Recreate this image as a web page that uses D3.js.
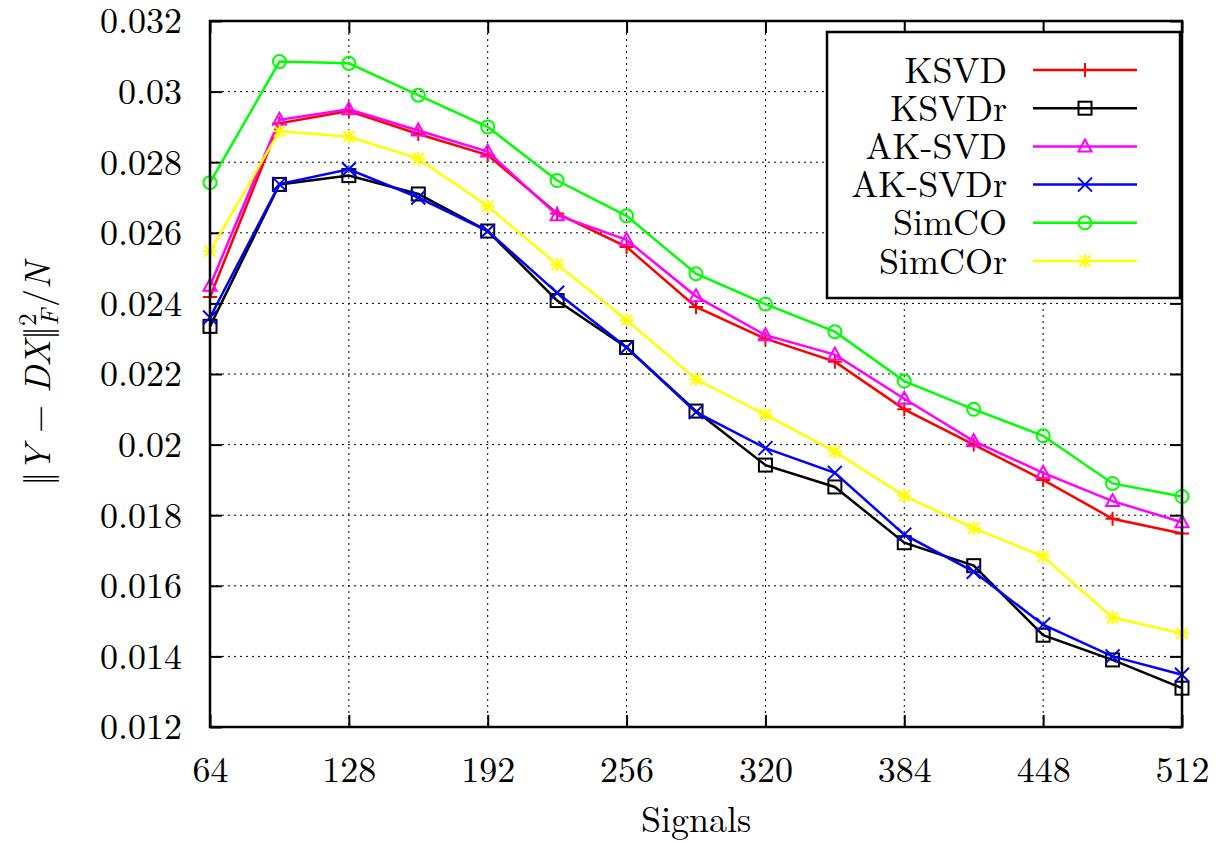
<!DOCTYPE html>
<html>
<head>
<meta charset="utf-8">
<script src="https://cdn.jsdelivr.net/npm/d3@7"></script>
</head>
<body style="margin:0; background:#fff">
<svg width="1220" height="842"></svg>
<script>

var signals = [64, 96, 128, 160, 192, 224, 256, 288, 320, 352, 384, 416, 448, 480, 512];

var ksvd    = [0.02418, 0.0291, 0.02945, 0.0288, 0.0282, 0.02655, 0.0256, 0.0239, 0.0230, 0.02235, 0.0210, 0.0200, 0.0190, 0.0179, 0.01748];
var ksvdr   = [0.02335, 0.02737, 0.02762, 0.0271, 0.02605, 0.02408, 0.02275, 0.02095, 0.01942, 0.0188, 0.01722, 0.01657, 0.0146, 0.0139, 0.0131];
var aksvd   = [0.0245, 0.0292, 0.0295, 0.0289, 0.0283, 0.0265, 0.0258, 0.0242, 0.0231, 0.02255, 0.0213, 0.0201, 0.0192, 0.0184, 0.0178];
var aksvdr  = [0.0236, 0.02738, 0.0278, 0.0270, 0.02605, 0.0243, 0.02275, 0.02092, 0.0199, 0.0192, 0.01745, 0.0164, 0.0149, 0.0140, 0.01348];
var simco   = [0.02742, 0.03085, 0.0308, 0.0299, 0.0290, 0.02748, 0.02648, 0.02484, 0.02398, 0.0232, 0.0218, 0.0210, 0.02025, 0.0189, 0.01853];
var simcor  = [0.02548, 0.02888, 0.02872, 0.0281, 0.02675, 0.0251, 0.02353, 0.02185, 0.02085, 0.0198, 0.01855, 0.01763, 0.01683, 0.0151, 0.01465];

var xTicks = [64, 128, 192, 256, 320, 384, 448, 512];
var yTicks = [0.012, 0.014, 0.016, 0.018, 0.02, 0.022, 0.024, 0.026, 0.028, 0.03, 0.032];

var series = [
    {name: "KSVD",     values: ksvd,   color: "#ff0000", mark: "plus"},
    {name: "KSVDr",    values: ksvdr,  color: "#000000", mark: "square"},
    {name: "AK-SVD",   values: aksvd,  color: "#ff00ff", mark: "triangle"},
    {name: "AK-SVDr",  values: aksvdr, color: "#0000ff", mark: "cross"},
    {name: "SimCO",    values: simco,  color: "#00ff00", mark: "circle"},
    {name: "SimCOr",   values: simcor, color: "#ffff00", mark: "star"}
];

var FONT = "'Latin Modern Roman', 'Liberation Serif', serif";

var svg = d3.select("svg"),
    margin = {top: 21, right: 38, bottom: 115, left: 210},
    width = +svg.attr("width") - margin.left - margin.right,
    height = +svg.attr("height") - margin.top - margin.bottom;

var x = d3.scaleLinear().domain([64, 512]).range([0, width]),
    y = d3.scaleLinear().domain([0.012, 0.032]).range([height, 0]);

var g = svg.append("g")
    .attr("transform", "translate(" + margin.left + "," + margin.top + ")");

// dotted grid
g.append("g").selectAll("line").data(xTicks.slice(1, -1)).enter().append("line")
    .attr("x1", function(d) { return x(d); }).attr("x2", function(d) { return x(d); })
    .attr("y1", 0).attr("y2", height)
    .attr("stroke", "#000").attr("stroke-width", 1).attr("stroke-dasharray", "2,4");
g.append("g").selectAll("line").data(yTicks.slice(1, -1)).enter().append("line")
    .attr("y1", function(d) { return y(d); }).attr("y2", function(d) { return y(d); })
    .attr("x1", 0).attr("x2", width)
    .attr("stroke", "#000").attr("stroke-width", 1).attr("stroke-dasharray", "2,4");

// axes with inward ticks on all four sides
var tl = 12;
var fmt = function(d) { return d3.format(".3~f")(d); };

var axL = g.append("g").call(d3.axisLeft(y).tickValues(yTicks).tickSize(-tl).tickPadding(tl + 16).tickFormat(fmt));
var axR = g.append("g").attr("transform", "translate(" + width + ",0)")
    .call(d3.axisRight(y).tickValues(yTicks).tickSize(-tl).tickFormat(""));
var axB = g.append("g").attr("transform", "translate(0," + height + ")")
    .call(d3.axisBottom(x).tickValues(xTicks).tickSize(-tl).tickPadding(tl + 16));
var axT = g.append("g")
    .call(d3.axisTop(x).tickValues(xTicks).tickSize(-tl).tickFormat(""));

[axL, axR, axB, axT].forEach(function(a) {
    a.attr("font-family", null);
    a.select(".domain").remove();
    a.selectAll("line").attr("stroke", "#000").attr("stroke-width", 2);
    a.selectAll("text").attr("font-size", 36).attr("fill", "#000").style("font-family", FONT);
});
axL.selectAll("text").attr("dy", "0.33em");
axB.selectAll("text").attr("dy", "0.75em");

// marker shapes
function drawMark(sel, type, color) {
    var s = 7;
    sel.attr("stroke", color).attr("stroke-width", 2).attr("fill", "none");
    if (type === "plus") {
        sel.append("path").attr("d", "M" + -s + ",0H" + s + "M0," + -s + "V" + s);
    } else if (type === "cross") {
        sel.append("path").attr("d", "M" + -s + "," + -s + "L" + s + "," + s + "M" + -s + "," + s + "L" + s + "," + -s);
    } else if (type === "star") {
        var t = s * 0.8;
        sel.append("path").attr("d", "M" + -s + ",0H" + s + "M0," + -s + "V" + s +
            "M" + -t + "," + -t + "L" + t + "," + t + "M" + -t + "," + t + "L" + t + "," + -t);
    } else if (type === "square") {
        sel.append("rect").attr("x", -6.5).attr("y", -6.5).attr("width", 13).attr("height", 13);
    } else if (type === "triangle") {
        sel.append("path").attr("d", "M0,-7L6.5,5L-6.5,5Z");
    } else if (type === "circle") {
        sel.append("circle").attr("r", 6.5);
    }
}

var line = d3.line()
    .x(function(d, i) { return x(signals[i]); })
    .y(function(d) { return y(d); });

series.forEach(function(s) {
    g.append("path")
        .datum(s.values)
        .attr("fill", "none")
        .attr("stroke", s.color)
        .attr("stroke-width", 2.5)
        .attr("d", line);
    g.append("g").selectAll("g").data(s.values).enter().append("g")
        .attr("transform", function(d, i) { return "translate(" + x(signals[i]) + "," + y(d) + ")"; })
        .each(function() { drawMark(d3.select(this), s.mark, s.color); });
});

// frame
g.append("rect").attr("width", width).attr("height", height)
    .attr("fill", "none").attr("stroke", "#000").attr("stroke-width", 2.5);

// legend
var leg = svg.append("g").attr("transform", "translate(827,32)");
leg.append("rect").attr("width", 353).attr("height", 266)
    .attr("fill", "#fff").attr("stroke", "#000").attr("stroke-width", 2.5);
series.forEach(function(s, i) {
    var ly = 38 + i * 38.2;
    leg.append("text").attr("x", 180).attr("y", ly).attr("dy", "0.35em")
        .attr("text-anchor", "end").attr("font-size", 36).style("font-family", FONT).text(s.name);
    leg.append("line").attr("x1", 206).attr("x2", 310).attr("y1", ly).attr("y2", ly)
        .attr("stroke", s.color).attr("stroke-width", 2.5);
    drawMark(leg.append("g").attr("transform", "translate(258," + ly + ")"), s.mark, s.color);
});

// axis titles
svg.append("text").attr("x", margin.left + width / 2).attr("y", 832)
    .attr("text-anchor", "middle").attr("font-size", 36).style("font-family", FONT).text("Signals");

var yl = svg.append("text")
    .attr("transform", "translate(50,374) rotate(-90)")
    .attr("text-anchor", "middle").attr("font-size", 36).style("font-family", FONT);
yl.append("tspan").style("letter-spacing", "-6px").text("||");
yl.append("tspan").attr("dx", 6).attr("font-style", "italic").text("Y");
yl.append("tspan").text(" \u2212 ");
yl.append("tspan").attr("font-style", "italic").text("DX");
yl.append("tspan").style("letter-spacing", "-6px").text("||");
yl.append("tspan").attr("dx", 6).attr("font-size", 25).attr("dy", -14).text("2");
yl.append("tspan").attr("font-size", 25).attr("font-style", "italic").attr("dx", -12).attr("dy", 22).text("F");
yl.append("tspan").attr("dy", -8).attr("dx", 2).text("/");
yl.append("tspan").attr("font-style", "italic").text("N");

</script>
</body>
</html>
